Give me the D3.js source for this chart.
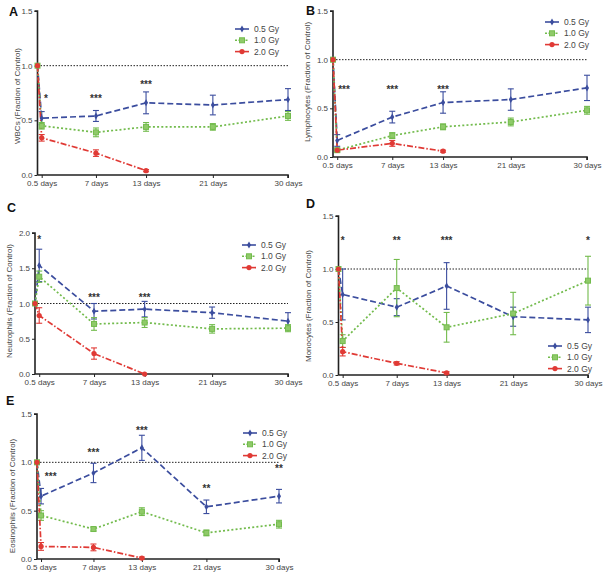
<!DOCTYPE html>
<html><head><meta charset="utf-8">
<script src="https://cdn.jsdelivr.net/npm/d3@7"></script>
<style>body{margin:0;background:#fff}svg{display:block}text{font-family:"Liberation Sans",Arial,sans-serif}</style>
</head><body>
<svg id="chart" width="604" height="576"></svg>
<script>
// ---------- DATA ----------
const days = [0, 0.5, 7, 13, 21, 30];
const dayTicks = [0.5, 7, 13, 21, 30];
const dayTickLabels = ["0.5 days", "7 days", "13 days", "21 days", "30 days"];
const seriesNames = ["0.5 Gy", "1.0 Gy", "2.0 Gy"];

const wbc05 = [1.0, 0.52, 0.54, 0.66, 0.64, 0.69];
const wbc05Err = [0, 0.06, 0.05, 0.10, 0.09, 0.10];
const wbc10 = [1.0, 0.45, 0.39, 0.44, 0.44, 0.54];
const wbc10Err = [0, 0.03, 0.04, 0.04, 0.03, 0.04];
const wbc20 = [1.0, 0.34, 0.20, 0.04];
const wbc20Err = [0, 0.03, 0.03, 0.01];

const lym05 = [1.0, 0.17, 0.41, 0.56, 0.59, 0.71];
const lym05Err = [0, 0.06, 0.06, 0.11, 0.11, 0.13];
const lym10 = [1.0, 0.07, 0.22, 0.31, 0.36, 0.48];
const lym10Err = [0, 0.02, 0.03, 0.03, 0.04, 0.04];
const lym20 = [1.0, 0.07, 0.14, 0.06];
const lym20Err = [0, 0.01, 0.03, 0.01];

const neu05 = [1.0, 1.54, 0.89, 0.92, 0.87, 0.75];
const neu05Err = [0, 0.23, 0.11, 0.11, 0.08, 0.12];
const neu10 = [1.0, 1.38, 0.71, 0.73, 0.64, 0.65];
const neu10Err = [0, 0.08, 0.09, 0.07, 0.06, 0.05];
const neu20 = [1.0, 0.83, 0.29, 0.0];
const neu20Err = [0, 0.11, 0.08, 0];

const mono05 = [1.0, 0.76, 0.64, 0.84, 0.55, 0.52];
const mono05Err = [0, 0.24, 0.08, 0.22, 0.09, 0.12];
const mono10 = [1.0, 0.32, 0.82, 0.45, 0.58, 0.89];
const mono10Err = [0, 0.06, 0.27, 0.14, 0.20, 0.23];
const mono20 = [1.0, 0.22, 0.11, 0.02];
const mono20Err = [0, 0.04, 0.015, 0.01];

const eos05 = [1.0, 0.65, 0.89, 1.15, 0.54, 0.65];
const eos05Err = [0, 0.08, 0.10, 0.13, 0.07, 0.07];
const eos10 = [1.0, 0.45, 0.31, 0.49, 0.27, 0.36];
const eos10Err = [0, 0.05, 0.02, 0.04, 0.03, 0.04];
const eos20 = [1.0, 0.13, 0.12, 0.01];
const eos20Err = [0, 0.04, 0.035, 0.01];

// significance marks: [day, level, text]
const sigA = [[1.0, 0.72, "*"], [7, 0.72, "***"], [13, 0.845, "***"]];
const sigB = [[1.3, 0.71, "***"], [7, 0.71, "***"], [13, 0.71, "***"]];
const sigC = [[0.5, 1.94, "*"], [7, 1.11, "***"], [13, 1.11, "***"]];
const sigD = [[0.5, 1.29, "*"], [7, 1.29, "**"], [13, 1.29, "***"], [30, 1.29, "*"]];
const sigE = [[1.7, 0.87, "***"], [7, 1.12, "***"], [13, 1.35, "***"], [21, 0.75, "**"], [30, 0.96, "**"]];

const yTicks15 = [0.0, 0.5, 1.0, 1.5];
const yTicks20 = [0.0, 0.5, 1.0, 1.5, 2.0];

// ---------- LAYOUT / STYLE ----------
const colors = ["#3b4d9e", "#72bb4c", "#e03a35"];
const dashes = ["6,3", "2,2.2", "6,2,1.5,2"];

const panels = [
  {letter: "A", title: "WBCs (Fraction of Control)", ymax: 1.5, yTicks: yTicks15,
   x0: 37.5, x1: 288, y0: 175, y1: 11, letterPos: [9, 16], titlePos: [17, 96],
   legendPos: [235, 29], vals: [wbc05, wbc10, wbc20], errs: [wbc05Err, wbc10Err, wbc20Err], sig: sigA},
  {letter: "B", title: "Lymphocytes (Fraction of Control)", ymax: 1.5, yTicks: yTicks15,
   x0: 333, x1: 587, y0: 157, y1: 11, letterPos: [306, 15], titlePos: [307, 82],
   legendPos: [545, 22], vals: [lym05, lym10, lym20], errs: [lym05Err, lym10Err, lym20Err], sig: sigB},
  {letter: "C", title: "Neutrophils (Fraction of Control)", ymax: 2.0, yTicks: yTicks20,
   x0: 35, x1: 288, y0: 374, y1: 233, letterPos: [7, 212], titlePos: [9, 301],
   legendPos: [242, 245], vals: [neu05, neu10, neu20], errs: [neu05Err, neu10Err, neu20Err], sig: sigC},
  {letter: "D", title: "Monocytes (Fraction of Control)", ymax: 1.5, yTicks: yTicks15,
   x0: 338.5, x1: 588, y0: 375, y1: 216, letterPos: [306, 208], titlePos: [308, 306],
   legendPos: [548, 346], vals: [mono05, mono10, mono20], errs: [mono05Err, mono10Err, mono20Err], sig: sigD},
  {letter: "E", title: "Eosinophils (Fraction of Control)", ymax: 1.5, yTicks: yTicks15,
   x0: 37, x1: 279, y0: 559, y1: 414, letterPos: [6, 405], titlePos: [12, 496],
   legendPos: [243, 433], vals: [eos05, eos10, eos20], errs: [eos05Err, eos10Err, eos20Err], sig: sigE}
];

const svg = d3.select("#chart");

function marker(g, k, x, y) {
  const c = colors[k];
  if (k === 0) {
    g.append("path").attr("d", d3.symbol(d3.symbolDiamond, 14)())
      .attr("transform", `translate(${x},${y})`).attr("fill", c);
  } else if (k === 1) {
    g.append("rect").attr("x", x - 2.5).attr("y", y - 2.5).attr("width", 5).attr("height", 5)
      .attr("fill", "#8fca69").attr("stroke", c).attr("stroke-width", 1);
  } else {
    g.append("circle").attr("cx", x).attr("cy", y).attr("r", 2.6).attr("fill", c);
  }
}

panels.forEach(p => {
  const g = svg.append("g");
  const x = d3.scaleLinear().domain([0, 30]).range([p.x0, p.x1]);
  const y = d3.scaleLinear().domain([0, p.ymax]).range([p.y0, p.y1]);

  // reference line at 1.0
  g.append("line").attr("x1", x(0)).attr("x2", x(30)).attr("y1", y(1)).attr("y2", y(1))
    .attr("stroke", "#222").attr("stroke-width", 1).attr("stroke-dasharray", "1.5,1.5");

  // axes
  const yAxis = d3.axisLeft(y).tickValues(p.yTicks).tickFormat(d3.format(".1f")).tickSize(3).tickPadding(2);
  const ya = g.append("g").attr("transform", `translate(${p.x0},0)`).call(yAxis);
  const xAxis = d3.axisBottom(x).tickValues(dayTicks).tickFormat((d, i) => dayTickLabels[i]).tickSize(3).tickPadding(2);
  const xa = g.append("g").attr("transform", `translate(0,${p.y0})`).call(xAxis);
  [ya, xa].forEach(a => {
    a.select(".domain").attr("stroke", "#222").attr("stroke-width", 1.6);
    a.selectAll(".tick line").attr("stroke", "#222").attr("stroke-width", 1);
    a.selectAll(".tick text").attr("fill", "#444").attr("font-size", 8);
  });
  ya.select(".domain").attr("d", `M-3,${p.y1}H0V${p.y0}`);
  xa.select(".domain").attr("d", `M${p.x0},0H${p.x1}V3`);

  // series
  p.vals.forEach((vals, k) => {
    const pts = vals.map((v, i) => [days[i], v, p.errs[k][i]]);
    const line = d3.line().x(d => x(d[0])).y(d => y(d[1]));
    g.append("path").attr("d", line(pts)).attr("fill", "none").attr("stroke", colors[k])
      .attr("stroke-width", 1.7).attr("stroke-dasharray", dashes[k]);
    pts.forEach(d => {
      if (d[2] > 0) {
        const xx = x(d[0]), yt = y(d[1] + d[2]), yb = y(Math.max(0, d[1] - d[2]));
        g.append("line").attr("x1", xx).attr("x2", xx).attr("y1", yt).attr("y2", yb)
          .attr("stroke", colors[k]).attr("stroke-width", 1.1);
        [yt, yb].forEach(yy => g.append("line").attr("x1", xx - 3).attr("x2", xx + 3)
          .attr("y1", yy).attr("y2", yy).attr("stroke", colors[k]).attr("stroke-width", 1.1));
      }
    });
  });
  p.vals.forEach((vals, k) => {
    vals.forEach((v, i) => marker(g, k, x(days[i]), y(v)));
  });

  // significance stars
  p.sig.forEach(s => {
    g.append("text").attr("x", x(s[0])).attr("y", y(s[1]) + 5.5).attr("text-anchor", "middle")
      .attr("font-size", 10).attr("font-weight", "bold").attr("fill", "#333").text(s[2]);
  });

  // panel letter
  g.append("text").attr("x", p.letterPos[0]).attr("y", p.letterPos[1])
    .attr("font-size", 12.5).attr("font-weight", "bold").attr("fill", "#111").text(p.letter);

  // y title
  g.append("text").attr("transform", `translate(${p.titlePos[0]},${p.titlePos[1]}) rotate(-90)`)
    .attr("text-anchor", "middle").attr("dominant-baseline", "central")
    .attr("font-size", 8).attr("fill", "#444").text(p.title);

  // legend
  seriesNames.forEach((name, k) => {
    const lx = p.legendPos[0], ly = p.legendPos[1] + k * 11.3;
    g.append("line").attr("x1", lx).attr("x2", lx + 14).attr("y1", ly).attr("y2", ly)
      .attr("stroke", colors[k]).attr("stroke-width", 1.6).attr("stroke-dasharray", k === 1 ? "2,1.5" : null);
    marker(g, k, lx + 7, ly);
    g.append("text").attr("x", lx + 19).attr("y", ly).attr("dominant-baseline", "central")
      .attr("font-size", 8.5).attr("font-weight", "normal").attr("fill", "#444").text(name);
  });
});
</script>
</body></html>
